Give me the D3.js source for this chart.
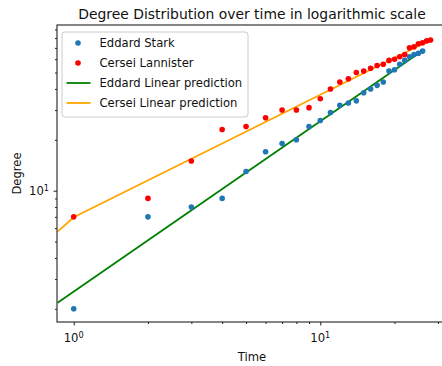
<!DOCTYPE html>
<meta charset="utf-8">
<style>
    body { margin: 0; background: #fff; }
    text { font-family: "DejaVu Sans", sans-serif; fill: #111; }
    .spine { fill: none; stroke: #222; stroke-width: 1.1px; }
    .tick line { stroke: #222; }
    .dot-e { fill: #1f77b4; }
    .dot-c { fill: red; }
    .fit-e { fill: none; stroke: green; stroke-width: 1.8px; }
    .fit-c { fill: none; stroke: orange; stroke-width: 1.8px; }
</style>
<body>
<script src="https://d3js.org/d3.v7.min.js"></script>
<script>
    // time steps (chapters)
    var time = [1, 2, 3, 4, 5, 6, 7, 8, 9, 10, 11, 12, 13, 14, 15, 16, 17, 18, 19, 20,
                21, 22, 23, 24, 25, 26, 27, 28];
    // degree of each character at each time step
    var eddard = [2, 7, 8, 9, 13, 17, 19, 20, 24, 26, 29, 32, 33, 34, 38, 40, 42, 44, 51, 52,
                  56, 59, 62, 64, 65, 67];
    var cersei = [7, 9, 15, 23, 24, 27, 30, 30, 31, 35, 40, 44, 46, 50, 51, 53, 55, 56, 59, 60,
                  62, 64, 70, 71, 74, 75, 77, 78];
    // fitted lines
    var eddardFitT = [0.86, 26.2];
    var eddardFitY = [2.17, 68];
    var cerseiFitT = [0.86, 1, 28];
    var cerseiFitY = [5.72, 6.96, 78];

    var xMajor = [1, 10];
    var xMinor = [2, 3, 4, 5, 6, 7, 8, 9, 20, 30];
    var yMajor = [10];
    var yMinor = [2, 3, 4, 5, 6, 7, 8, 9, 20, 30, 40, 50, 60, 70, 80, 90];

    var legendItems = [
        ["Eddard Stark", "dot", "#1f77b4"],
        ["Cersei Lannister", "dot", "red"],
        ["Eddard Linear prediction", "line", "green"],
        ["Cersei Linear prediction", "line", "orange"]
    ];

    var margin = { top: 25, left: 57 },
        width = 390,
        height = 297;

    var svg = d3.select("body").append("svg")
        .attr("width", 442)
        .attr("height", 366);

    var g = svg.append("g")
        .attr("transform", "translate(" + margin.left + "," + margin.top + ")");

    var x = d3.scaleLog().domain([0.8555, 32.65]).range([0, width]);
    var y = d3.scaleLog().domain([1.671, 95.6]).range([height, 0]);

    g.append("clipPath").attr("id", "clip")
        .append("rect").attr("width", width).attr("height", height);

    var plot = g.append("g").attr("clip-path", "url(#clip)");

    var line = d3.line()
        .x(function(d) { return x(d[0]); })
        .y(function(d) { return y(d[1]); });

    plot.append("path")
        .datum(d3.zip(eddardFitT, eddardFitY))
        .attr("class", "fit-e")
        .attr("d", line);

    plot.append("path")
        .datum(d3.zip(cerseiFitT, cerseiFitY))
        .attr("class", "fit-c")
        .attr("d", line);

    plot.selectAll(".dot-e")
        .data(eddard)
        .enter().append("circle")
        .attr("class", "dot-e")
        .attr("cx", function(d, i) { return x(time[i]); })
        .attr("cy", function(d) { return y(d); })
        .attr("r", 2.8);

    plot.selectAll(".dot-c")
        .data(cersei)
        .enter().append("circle")
        .attr("class", "dot-c")
        .attr("cx", function(d, i) { return x(time[i]); })
        .attr("cy", function(d) { return y(d); })
        .attr("r", 2.8);

    // axes: ticks only, labels drawn below with superscripts
    function ticks(axis, vals, size) {
        return axis.tickValues(vals).tickSize(size).tickSizeOuter(0).tickFormat("");
    }
    [[xMajor, 3.5], [xMinor, 2]].forEach(function(t) {
        g.append("g")
            .attr("transform", "translate(0," + height + ")")
            .call(ticks(d3.axisBottom(x), t[0], t[1]))
            .call(function(s) { s.select(".domain").remove(); });
    });
    [[yMajor, 3.5], [yMinor, 2]].forEach(function(t) {
        g.append("g")
            .call(ticks(d3.axisLeft(y), t[0], t[1]))
            .call(function(s) { s.select(".domain").remove(); });
    });

    g.append("rect")
        .attr("class", "spine")
        .attr("x", 0).attr("y", 0)
        .attr("width", width).attr("height", height);

    function power(sel, exp) {
        sel.append("tspan").text("10");
        sel.append("tspan").attr("dy", "-0.45em").style("font-size", "8.2px").text(exp);
    }

    g.selectAll(".xlab")
        .data(xMajor)
        .enter().append("text")
        .attr("x", function(d) { return x(d); })
        .attr("y", height + 20)
        .attr("text-anchor", "middle")
        .style("font-size", "11.6px")
        .each(function(d) { power(d3.select(this), String(Math.round(Math.log10(d)))); });

    g.selectAll(".ylab")
        .data(yMajor)
        .enter().append("text")
        .attr("x", -8)
        .attr("y", function(d) { return y(d) + 4.5; })
        .attr("text-anchor", "end")
        .style("font-size", "11.6px")
        .each(function(d) { power(d3.select(this), String(Math.round(Math.log10(d)))); });

    svg.append("text")
        .attr("x", margin.left + width / 2)
        .attr("y", 361)
        .attr("text-anchor", "middle")
        .style("font-size", "11.6px")
        .text("Time");

    svg.append("text")
        .attr("transform", "translate(21," + (margin.top + height / 2) + ") rotate(-90)")
        .attr("text-anchor", "middle")
        .style("font-size", "11.6px")
        .text("Degree");

    svg.append("text")
        .attr("x", margin.left + width / 2)
        .attr("y", 18.5)
        .attr("text-anchor", "middle")
        .style("font-size", "13.9px")
        .text("Degree Distribution over time in logarithmic scale");

    // legend
    var legend = svg.append("g").attr("transform", "translate(62,32)");
    legend.append("rect")
        .attr("width", 186).attr("height", 85)
        .attr("rx", 3)
        .style("fill", "rgba(255,255,255,0.8)")
        .style("stroke", "#ccc");

    legend.selectAll(".item")
        .data(legendItems)
        .enter().append("g")
        .each(function(d, i) {
            var it = d3.select(this).attr("transform", "translate(0," + (11 + i * 20) + ")");
            if (d[1] == "dot") {
                it.append("circle").attr("cx", 16).attr("cy", 0).attr("r", 2.8).style("fill", d[2]);
            } else {
                it.append("line").attr("x1", 4.5).attr("x2", 28.5)
                    .style("stroke", d[2]).style("stroke-width", 1.8);
            }
            it.append("text").attr("x", 37.5).attr("y", 4.3)
                .style("font-size", "11.6px").text(d[0]);
        });
</script>
</body>
